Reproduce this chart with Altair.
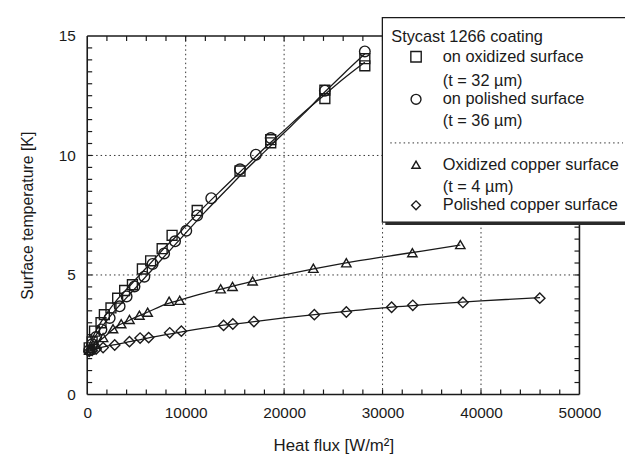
import altair as alt
import pandas as pd

FONT = "Liberation Sans"
INK = "#1a1a1a"

sq_x = [200, 500, 740, 1400, 1740, 2410, 3090, 3800, 4590, 5600, 6440, 7610, 8620, 11170, 15520, 18640, 18640, 24140, 24140, 28200, 28200]
sq_y = [1.95, 2.2, 2.65, 3.0, 3.34, 3.62, 4.03, 4.35, 4.59, 5.25, 5.59, 6.10, 6.66, 7.70, 9.35, 10.66, 10.53, 12.73, 12.38, 14.05, 13.75]

ci_x = [200, 500, 900, 1440, 2280, 3290, 4000, 4800, 5800, 6640, 7810, 8920, 10060, 11170, 12600, 15520, 17130, 18640, 24140, 28200]
ci_y = [1.85, 2.1, 2.4, 2.72, 3.20, 3.69, 4.10, 4.52, 4.93, 5.46, 5.90, 6.41, 6.85, 7.49, 8.21, 9.42, 10.03, 10.73, 12.71, 14.35]

tr_x = [200, 500, 900, 1610, 2620, 3450, 4290, 5300, 6140, 8320, 9390, 13550, 14760, 16800, 22970, 26320, 33030, 37900]
tr_y = [1.85, 1.95, 2.1, 2.38, 2.75, 2.96, 3.14, 3.32, 3.44, 3.90, 3.94, 4.42, 4.52, 4.75, 5.28, 5.51, 5.93, 6.27]

di_x = [200, 500, 900, 1610, 2790, 4290, 5370, 6240, 8380, 9560, 13850, 14790, 16930, 23070, 26320, 30920, 33070, 38160, 45970]
di_y = [1.80, 1.85, 1.90, 1.96, 2.07, 2.21, 2.36, 2.38, 2.58, 2.65, 2.89, 2.95, 3.05, 3.34, 3.45, 3.65, 3.73, 3.85, 4.03]

# fitted curves
fit_x = [0, 500, 1000, 2000, 3000, 4000, 5000, 6000, 7000, 8000, 9000, 10000, 12000, 14000, 16000, 18000, 20000, 22000, 24000, 26000, 28200]
fit_sq_y = [1.9, 2.35, 2.75, 3.4, 3.95, 4.4, 4.85, 5.3, 5.75, 6.2, 6.6, 7.05, 7.9, 8.7, 9.5, 10.3, 11.05, 11.8, 12.5, 13.2, 13.9]
fit_ci_y = [1.85, 2.2, 2.55, 3.1, 3.6, 4.05, 4.5, 4.95, 5.4, 5.85, 6.3, 6.75, 7.65, 8.5, 9.35, 10.15, 10.95, 11.75, 12.6, 13.4, 14.25]

fit_tr_x = [0, 500, 1000, 2000, 3000, 4000, 5000, 6000, 8000, 10000, 12000, 14000, 17000, 20000, 23000, 26000, 30000, 34000, 37900]
fit_tr_y = [1.85, 2.0, 2.15, 2.5, 2.85, 3.05, 3.25, 3.42, 3.78, 4.02, 4.25, 4.45, 4.75, 5.0, 5.25, 5.48, 5.75, 6.0, 6.25]

fit_di_x = [0, 500, 1000, 2000, 3000, 4000, 5000, 6000, 8000, 10000, 13000, 16000, 20000, 25000, 30000, 35000, 40000, 46000]
fit_di_y = [1.8, 1.87, 1.93, 2.02, 2.1, 2.18, 2.26, 2.35, 2.5, 2.65, 2.85, 3.0, 3.2, 3.42, 3.62, 3.78, 3.92, 4.05]

x_labels = [0, 10000, 20000, 30000, 40000, 50000]
y_labels = [0, 5, 10, 15]
x_grid = [10000, 20000, 30000, 40000]
y_grid = [5, 10]
x_minor = [2000, 4000, 6000, 8000, 10000, 12000, 14000, 16000, 18000, 20000, 22000, 24000,
           26000, 28000, 30000, 32000, 34000, 36000, 38000, 40000, 42000, 44000, 46000, 48000]
y_minor = [0.5, 1, 1.5, 2, 2.5, 3, 3.5, 4, 4.5, 5, 5.5, 6, 6.5, 7, 7.5, 8, 8.5, 9, 9.5,
           10, 10.5, 11, 11.5, 12, 12.5, 13, 13.5, 14, 14.5]

W, H = 497, 362

xs = alt.Scale(domain=[0, 50000], nice=False, zero=False)
ys = alt.Scale(domain=[0, 15], nice=False, zero=False)

X = alt.X("x:Q", scale=xs, axis=alt.Axis(values=x_labels, format="d", title="Heat flux [W/m²]",
                                         labelFlush=False, labelPadding=11, titlePadding=17,
                                         titleFontSize=17))
Y = alt.Y("y:Q", scale=ys, axis=alt.Axis(values=y_labels, format="d", title="Surface temperature [K]",
                                         labelFlush=False, labelPadding=12, titlePadding=23,
                                         titleFontSize=16))


def df(x, y):
    return pd.DataFrame({"x": x, "y": y})


layers = []

# grid (dotted)
layers.append(alt.Chart(pd.DataFrame({"x": x_grid})).mark_rule(
    color="#333", strokeWidth=1, strokeDash=[1.5, 3]).encode(x=X, y=alt.value(0), y2=alt.value(H)))
layers.append(alt.Chart(pd.DataFrame({"y": y_grid})).mark_rule(
    color="#333", strokeWidth=1, strokeDash=[1.5, 3]).encode(y=Y, x=alt.value(0), x2=alt.value(W)))

# inward ticks
for y0, y1 in [(H, H - 5), (0, 5)]:
    layers.append(alt.Chart(pd.DataFrame({"x": x_minor})).mark_rule(color=INK, strokeWidth=1.2).encode(
        x=X, y=alt.value(y0), y2=alt.value(y1)))
for x0, x1 in [(0, 5), (W, W - 5)]:
    layers.append(alt.Chart(pd.DataFrame({"y": y_minor})).mark_rule(color=INK, strokeWidth=1.2).encode(
        y=Y, x=alt.value(x0), x2=alt.value(x1)))

# frame
frame_style = dict(color=INK, strokeWidth=1.6)
layers.append(alt.Chart().mark_rule(**frame_style).encode(x=alt.value(0), y=alt.value(0), y2=alt.value(H)))
layers.append(alt.Chart().mark_rule(**frame_style).encode(x=alt.value(W), y=alt.value(0), y2=alt.value(H)))
layers.append(alt.Chart().mark_rule(**frame_style).encode(y=alt.value(0), x=alt.value(0), x2=alt.value(W)))
layers.append(alt.Chart().mark_rule(**frame_style).encode(y=alt.value(H), x=alt.value(0), x2=alt.value(W)))

# fit lines
line_style = dict(color=INK, strokeWidth=1.3, interpolate="monotone")
layers.append(alt.Chart(df(fit_x, fit_sq_y)).mark_line(**line_style).encode(x=X, y=Y))
layers.append(alt.Chart(df(fit_x, fit_ci_y)).mark_line(**line_style).encode(x=X, y=Y))
layers.append(alt.Chart(df(fit_tr_x, fit_tr_y)).mark_line(**line_style).encode(x=X, y=Y))
layers.append(alt.Chart(df(fit_di_x, fit_di_y)).mark_line(**line_style).encode(x=X, y=Y))

# markers
pt = dict(filled=False, color=INK, strokeWidth=1.4, opacity=1)
layers.append(alt.Chart(df(sq_x, sq_y)).mark_point(shape="square", size=100, **pt).encode(x=X, y=Y))
layers.append(alt.Chart(df(ci_x, ci_y)).mark_point(shape="circle", size=115, **pt).encode(x=X, y=Y))
layers.append(alt.Chart(df(tr_x, tr_y)).mark_point(shape="triangle-up", size=90, **pt).encode(x=X, y=Y))
layers.append(alt.Chart(df(di_x, di_y)).mark_point(shape="diamond", size=110, **pt).encode(x=X, y=Y))

# legend box
L, R, T, B = 298, 544, -18.5, 188
layers.append(alt.Chart().mark_rect(fill="#2a2a2a").encode(
    x=alt.value(L + 3), x2=alt.value(R + 3), y=alt.value(T + 3), y2=alt.value(B + 3)))
layers.append(alt.Chart().mark_rect(fill="white", stroke=INK, strokeWidth=1.3).encode(
    x=alt.value(L), x2=alt.value(R), y=alt.value(T), y2=alt.value(B)))
layers.append(alt.Chart().mark_rule(color="#333", strokeWidth=1, strokeDash=[1.5, 3]).encode(
    x=alt.value(306), x2=alt.value(541), y=alt.value(108)))

txt = dict(font=FONT, fontSize=16.5, color=INK, align="left", baseline="middle")
legend_texts = [
    ("Stycast 1266 coating", 307, 1),
    ("on oxidized surface", 359, 21),
    ("(t = 32 µm)", 359, 46),
    ("on polished surface", 359, 64),
    ("(t = 36 µm)", 359, 86),
    ("Oxidized copper surface", 359, 130),
    ("(t = 4 µm)", 359, 153),
    ("Polished copper surface", 359, 171),
]
for t, xx, yy in legend_texts:
    layers.append(alt.Chart().mark_text(text=t, **txt).encode(x=alt.value(xx), y=alt.value(yy)))

for shape, size, yy in [("square", 110, 21), ("circle", 100, 64), ("triangle-up", 70, 130), ("diamond", 80, 171)]:
    layers.append(alt.Chart().mark_point(shape=shape, size=size, **pt).encode(x=alt.value(332), y=alt.value(yy)))

chart = alt.layer(*layers).properties(
    width=W, height=H,
    autosize=alt.AutoSizeParams(type="none"),
    padding={"left": 80, "top": 26, "right": 46, "bottom": 70},
).configure_view(stroke=None).configure_axis(
    domain=False, ticks=False, grid=False,
    labelFont=FONT, labelFontSize=15.5, labelColor=INK,
    titleFont=FONT, titleFontWeight="normal", titleColor=INK,
)

chart.save("out.html", embed_options={"renderer": "svg", "actions": False})
